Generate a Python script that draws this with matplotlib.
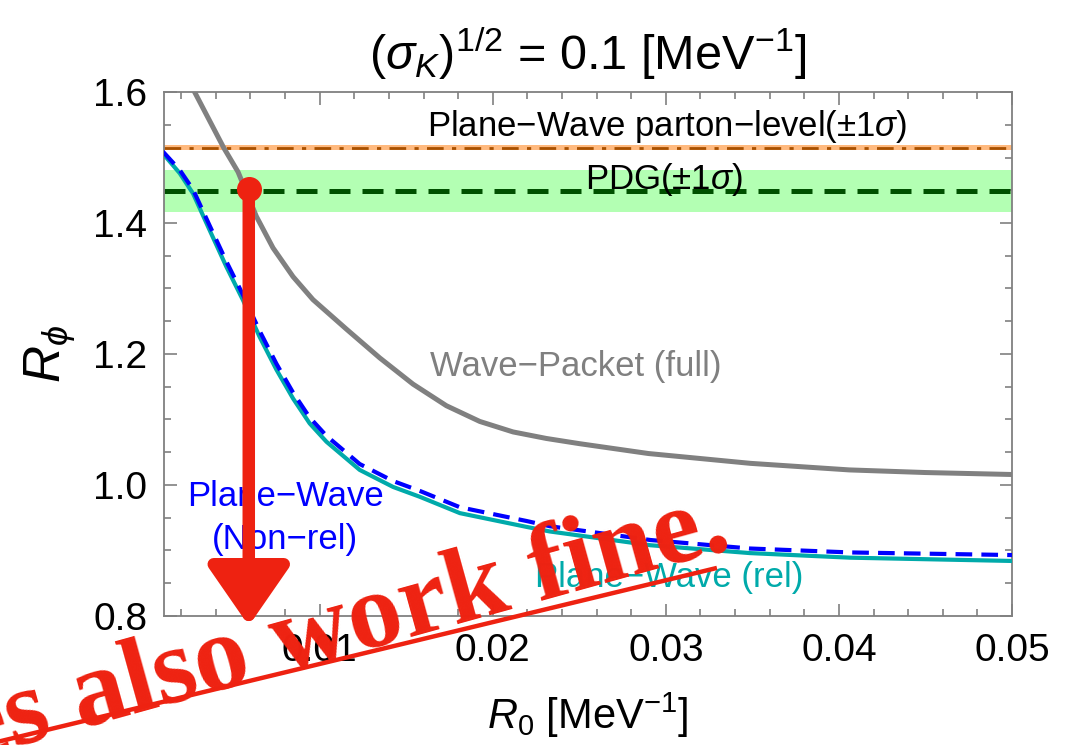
import matplotlib.pyplot as plt
from matplotlib.ticker import MultipleLocator

plt.rcParams['font.family'] = ['Liberation Sans', 'DejaVu Sans']
plt.rcParams['mathtext.fontset'] = 'custom'
plt.rcParams['mathtext.rm'] = 'Liberation Sans'
plt.rcParams['mathtext.it'] = 'Liberation Sans:italic'
plt.rcParams['mathtext.bf'] = 'Liberation Sans:bold'

# values
r0_wp = [0.00277, 0.00445, 0.00528, 0.00634, 0.00730, 0.00846, 0.00961, 0.01154,
         0.01347, 0.01539, 0.01732, 0.01925, 0.02117, 0.02310, 0.02503, 0.02900,
         0.03490, 0.04060, 0.04500, 0.05000]
r_wp = [1.600, 1.515, 1.478, 1.410, 1.362, 1.318, 1.283, 1.238,
        1.194, 1.154, 1.121, 1.097, 1.081, 1.071, 1.063, 1.048,
        1.033, 1.023, 1.019, 1.016]

r0_pw = [0.00094, 0.00191, 0.00268, 0.00364, 0.00461, 0.00557, 0.00653, 0.00750,
         0.00846, 0.00942, 0.01039, 0.01231, 0.01424, 0.01578, 0.01810, 0.02195,
         0.02330, 0.02910, 0.03486, 0.04064, 0.05000]
r_rel = [1.506, 1.476, 1.445, 1.389, 1.333, 1.282, 1.226, 1.176,
         1.132, 1.094, 1.066, 1.023, 0.997, 0.982, 0.957, 0.936,
         0.929, 0.908, 0.896, 0.889, 0.884]
r_nonrel = [1.509, 1.481, 1.451, 1.396, 1.341, 1.290, 1.235, 1.185,
            1.141, 1.103, 1.075, 1.032, 1.006, 0.991, 0.966, 0.945,
            0.937, 0.916, 0.903, 0.897, 0.893]

parton_val, parton_err = 1.515, 0.004
pdg_val, pdg_err = 1.449, 0.032

xmin, xmax = 0.001, 0.05
ymin, ymax = 0.8, 1.6

fig = plt.figure(figsize=(10.83, 7.45), dpi=100)
ax = fig.add_axes([0.1514, 0.1732, 0.783, 0.7033])

# bands
ax.axhspan(pdg_val - pdg_err, pdg_val + pdg_err, color='#b3ffb3', lw=0, zorder=1)
ax.axhspan(parton_val - parton_err, parton_val + parton_err, color='#ffb97e', lw=0, zorder=1)
ax.axhline(parton_val, color='#a85000', lw=2.0, dashes=(6, 3, 1.5, 3), zorder=2)
ax.axhline(pdg_val, color='#005000', lw=3.6, dashes=(4.2, 2.4), zorder=2)

# curves
ax.plot(r0_wp, r_wp, color='#808080', lw=3.6, zorder=3, solid_joinstyle='round')
ax.plot(r0_pw, r_rel, color='#00aaaa', lw=3.0, zorder=3, solid_joinstyle='round')
ax.plot(r0_pw, r_nonrel, color='#0000ff', lw=3.0, dashes=(4, 2.2), zorder=4)

# labels on the plot
ax.text(0.0301, 1.547, r'Plane$-$Wave parton$-$level($\pm$1$\sigma$)', fontsize=25,
        ha='center', va='center', color='black')
ax.text(0.0299, 1.466, r'PDG($\pm$1$\sigma$)', fontsize=25, ha='center', va='center',
        color='black', zorder=5)
ax.text(0.0248, 1.181, 'Wave\u2212Packet (full)', fontsize=25, ha='center', va='center',
        color='#808080')
ax.text(0.0080, 0.950, 'Plane\u2212Wave\n(Non\u2212rel)', fontsize=25, ha='center',
        va='center', color='#0000ff', linespacing=1.4)
ax.text(0.0302, 0.858, 'Plane\u2212Wave (rel)', fontsize=25, ha='center', va='center',
        color='#00aaaa')

ax.set_xlim(xmin, xmax)
ax.set_ylim(ymin, ymax)
ax.xaxis.set_major_locator(MultipleLocator(0.01))
ax.xaxis.set_minor_locator(MultipleLocator(0.002))
ax.yaxis.set_major_locator(MultipleLocator(0.2))
ax.yaxis.set_minor_locator(MultipleLocator(0.05))
ax.xaxis.set_major_formatter(plt.FuncFormatter(lambda v, p: f'{v:.2f}'))
ax.yaxis.set_major_formatter(plt.FuncFormatter(lambda v, p: f'{v:.1f}'))
ax.tick_params(which='both', direction='in', top=True, right=True, color='#808080',
               labelsize=28, width=1.2)
ax.tick_params(which='major', length=9, pad=12)
ax.tick_params(which='minor', length=5)
for s in ax.spines.values():
    s.set_color('#808080')
    s.set_linewidth(1.3)

ax.set_title(r'$(\sigma_K)^{1/2}$ = 0.1 [MeV$^{-1}$]', fontsize=35, pad=16)
ax.set_xlabel(r'$R_0$ [MeV$^{-1}$]', fontsize=30, labelpad=16)
ax.set_ylabel(r'$R_\phi$', fontsize=37, labelpad=12)

# red hand-drawn overlay
red = '#ee2211'
ax.annotate('', xy=(0.0059, 0.785), xytext=(0.0059, 1.452), annotation_clip=False,
            arrowprops=dict(arrowstyle='-|>,head_length=2.6,head_width=1.8',
                            color=red, lw=9, mutation_scale=14, shrinkA=0, shrinkB=0),
            zorder=6)
ax.plot([0.0059], [1.452], 'o', color=red, ms=17, zorder=6)
fig.text(-0.03, -0.02, 'es also work fine.', fontsize=78, fontweight='bold',
         family='Liberation Serif', color=red, rotation=15.5, rotation_mode='anchor',
         ha='left', va='baseline', zorder=10)
fig.add_artist(plt.Line2D([0.0, 0.66], [0.005, 0.237], color=red, lw=3.2,
                          transform=fig.transFigure))

fig.savefig('out.png', dpi=100)
